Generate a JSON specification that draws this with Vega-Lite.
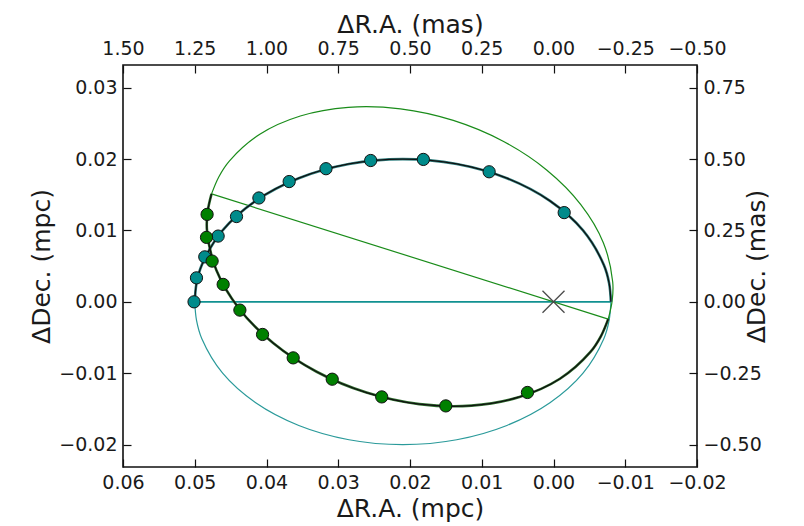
{
  "$schema": "https://vega.github.io/schema/vega-lite/v6.json",
  "width": 574,
  "height": 402,
  "autosize": {"type": "none"},
  "padding": {"left": 123, "top": 65, "right": 107, "bottom": 59},
  "background": "white",
  "config": {
    "view": {"stroke": "#111", "strokeWidth": 1.6},
    "font": "DejaVu Sans",
    "axis": {
      "domain": false,
      "grid": false,
      "tickSize": -8,
      "tickColor": "#111",
      "tickWidth": 1.2,
      "labelFont": "DejaVu Sans",
      "labelFontSize": 19,
      "labelColor": "#1a1a1a",
      "labelPadding": 14,
      "labelOverlap": false,
      "labelFlush": false,
      "labelBound": false,
      "titleFont": "DejaVu Sans",
      "titleFontSize": 25,
      "titleFontWeight": "normal",
      "titleColor": "#1a1a1a"
    }
  },
  "datasets": {
    "orbit": [
      {"curve": "tealUpper", "i": 0, "x": 0.05, "y": 0},
      {"curve": "tealUpper", "i": 1, "x": 0.049752, "y": 0.002611},
      {"curve": "tealUpper", "i": 2, "x": 0.049012, "y": 0.005176},
      {"curve": "tealUpper", "i": 3, "x": 0.046115, "y": 0.01},
      {"curve": "tealUpper", "i": 4, "x": 0.041506, "y": 0.014142},
      {"curve": "tealUpper", "i": 5, "x": 0.0355, "y": 0.017321},
      {"curve": "tealUpper", "i": 6, "x": 0.028506, "y": 0.019319},
      {"curve": "tealUpper", "i": 7, "x": 0.021, "y": 0.02},
      {"curve": "tealUpper", "i": 8, "x": 0.013494, "y": 0.019319},
      {"curve": "tealUpper", "i": 9, "x": 0.0065, "y": 0.017321},
      {"curve": "tealUpper", "i": 10, "x": 0.000494, "y": 0.014142},
      {"curve": "tealUpper", "i": 11, "x": -0.004115, "y": 0.01},
      {"curve": "tealUpper", "i": 12, "x": -0.007012, "y": 0.005176},
      {"curve": "tealUpper", "i": 13, "x": -0.007752, "y": 0.002611},
      {"curve": "tealUpper", "i": 14, "x": -0.008, "y": 0},

      {"curve": "tealLower", "i": 0, "x": 0.05, "y": 0},
      {"curve": "tealLower", "i": 1, "x": 0.049752, "y": -0.002611},
      {"curve": "tealLower", "i": 2, "x": 0.049012, "y": -0.005176},
      {"curve": "tealLower", "i": 3, "x": 0.046115, "y": -0.01},
      {"curve": "tealLower", "i": 4, "x": 0.041506, "y": -0.014142},
      {"curve": "tealLower", "i": 5, "x": 0.0355, "y": -0.017321},
      {"curve": "tealLower", "i": 6, "x": 0.028506, "y": -0.019319},
      {"curve": "tealLower", "i": 7, "x": 0.021, "y": -0.02},
      {"curve": "tealLower", "i": 8, "x": 0.013494, "y": -0.019319},
      {"curve": "tealLower", "i": 9, "x": 0.0065, "y": -0.017321},
      {"curve": "tealLower", "i": 10, "x": 0.000494, "y": -0.014142},
      {"curve": "tealLower", "i": 11, "x": -0.004115, "y": -0.01},
      {"curve": "tealLower", "i": 12, "x": -0.007012, "y": -0.005176},
      {"curve": "tealLower", "i": 13, "x": -0.007752, "y": -0.002611},
      {"curve": "tealLower", "i": 14, "x": -0.008, "y": 0},

      {"curve": "greenUpper", "i": 0, "x": 0.04766, "y": 0.01512},
      {"curve": "greenUpper", "i": 1, "x": 0.046634, "y": 0.017534},
      {"curve": "greenUpper", "i": 2, "x": 0.045153, "y": 0.019755},
      {"curve": "greenUpper", "i": 3, "x": 0.040933, "y": 0.023477},
      {"curve": "greenUpper", "i": 4, "x": 0.035287, "y": 0.026031},
      {"curve": "greenUpper", "i": 5, "x": 0.028601, "y": 0.027245},
      {"curve": "greenUpper", "i": 6, "x": 0.02133, "y": 0.027035},
      {"curve": "greenUpper", "i": 7, "x": 0.013969, "y": 0.025414},
      {"curve": "greenUpper", "i": 8, "x": 0.00702, "y": 0.022496},
      {"curve": "greenUpper", "i": 9, "x": 0.000958, "y": 0.018476},
      {"curve": "greenUpper", "i": 10, "x": -0.003806, "y": 0.013629},
      {"curve": "greenUpper", "i": 11, "x": -0.006946, "y": 0.008288},
      {"curve": "greenUpper", "i": 12, "x": -0.008249, "y": 0.002814},
      {"curve": "greenUpper", "i": 13, "x": -0.008179, "y": 0.000145},
      {"curve": "greenUpper", "i": 14, "x": -0.007626, "y": -0.002419},

      {"curve": "greenLower", "i": 0, "x": 0.04766, "y": 0.01512},
      {"curve": "greenLower", "i": 1, "x": 0.048214, "y": 0.012556},
      {"curve": "greenLower", "i": 2, "x": 0.048283, "y": 0.009887},
      {"curve": "greenLower", "i": 3, "x": 0.046981, "y": 0.004413},
      {"curve": "greenLower", "i": 4, "x": 0.043841, "y": -0.000929},
      {"curve": "greenLower", "i": 5, "x": 0.039077, "y": -0.005775},
      {"curve": "greenLower", "i": 6, "x": 0.033014, "y": -0.009795},
      {"curve": "greenLower", "i": 7, "x": 0.026065, "y": -0.012714},
      {"curve": "greenLower", "i": 8, "x": 0.018704, "y": -0.014334},
      {"curve": "greenLower", "i": 9, "x": 0.011434, "y": -0.014544},
      {"curve": "greenLower", "i": 10, "x": 0.004748, "y": -0.013331},
      {"curve": "greenLower", "i": 11, "x": -0.000898, "y": -0.010776},
      {"curve": "greenLower", "i": 12, "x": -0.005119, "y": -0.007054},
      {"curve": "greenLower", "i": 13, "x": -0.006599, "y": -0.004833},
      {"curve": "greenLower", "i": 14, "x": -0.007626, "y": -0.002419}
    ],
    "apsides": [
      {"line": "teal", "i": 0, "x": 0.05, "y": 0},
      {"line": "teal", "i": 1, "x": -0.008, "y": 0},
      {"line": "green", "i": 0, "x": 0.04766, "y": 0.01512},
      {"line": "green", "i": 1, "x": -0.007626, "y": -0.002419}
    ],
    "obs": [
      {"set": "teal", "x": 0.0501, "y": 0.0},
      {"set": "teal", "x": 0.04976, "y": 0.00336},
      {"set": "teal", "x": 0.04860, "y": 0.00630},
      {"set": "teal", "x": 0.04674, "y": 0.00921},
      {"set": "teal", "x": 0.04418, "y": 0.01195},
      {"set": "teal", "x": 0.04106, "y": 0.01455},
      {"set": "teal", "x": 0.03684, "y": 0.01685},
      {"set": "teal", "x": 0.03171, "y": 0.01865},
      {"set": "teal", "x": 0.02548, "y": 0.01980},
      {"set": "teal", "x": 0.01814, "y": 0.01995},
      {"set": "teal", "x": 0.00897, "y": 0.01822},
      {"set": "teal", "x": -0.00149, "y": 0.01250},
      {"set": "green", "x": 0.04828, "y": 0.01225},
      {"set": "green", "x": 0.04836, "y": 0.00903},
      {"set": "green", "x": 0.04758, "y": 0.00571},
      {"set": "green", "x": 0.04604, "y": 0.00244},
      {"set": "green", "x": 0.04371, "y": -0.00116},
      {"set": "green", "x": 0.04055, "y": -0.00457},
      {"set": "green", "x": 0.03628, "y": -0.00785},
      {"set": "green", "x": 0.03084, "y": -0.01084},
      {"set": "green", "x": 0.02394, "y": -0.01332},
      {"set": "green", "x": 0.01501, "y": -0.01458},
      {"set": "green", "x": 0.00363, "y": -0.01270}
    ],
    "bh": [{"x": 0, "y": 0}]
  },
  "resolve": {
    "scale": {"x": "shared", "y": "shared"},
    "axis": {"x": "independent", "y": "independent"}
  },
  "layer": [
    {
      "data": {"name": "orbit"},
      "transform": [{"filter": "datum.curve === 'tealLower'"}],
      "mark": {"type": "line", "interpolate": "catmull-rom", "stroke": "#2a9a9a", "strokeWidth": 1.2},
      "encoding": {
        "x": {
          "field": "x", "type": "quantitative",
          "scale": {"domain": [-0.02, 0.06], "reverse": true, "nice": false, "zero": false},
          "axis": {
            "orient": "bottom", "title": "ΔR.A. (mpc)",
            "values": [0.06, 0.05, 0.04, 0.03, 0.02, 0.01, 0, -0.01, -0.02],
            "format": ".2f", "titlePadding": 4
          }
        },
        "y": {
          "field": "y", "type": "quantitative",
          "scale": {"domain": [-0.02314, 0.03318], "nice": false, "zero": false},
          "axis": {
            "orient": "left", "title": "ΔDec. (mpc)",
            "values": [-0.02, -0.01, 0, 0.01, 0.02, 0.03],
            "format": ".2f", "titlePadding": 4
          }
        },
        "order": {"field": "i", "type": "quantitative"}
      }
    },
    {
      "data": {"name": "orbit"},
      "transform": [{"filter": "datum.curve === 'greenUpper'"}],
      "mark": {"type": "line", "interpolate": "catmull-rom", "stroke": "#1a8c1a", "strokeWidth": 1.2},
      "encoding": {
        "x": {
          "field": "x", "type": "quantitative",
          "scale": {"domain": [-0.02, 0.06], "reverse": true, "nice": false, "zero": false},
          "axis": {
            "orient": "top", "title": "ΔR.A. (mas)",
            "values": [0.06, 0.05, 0.04, 0.03, 0.02, 0.01, 0, -0.01, -0.02],
            "labelExpr": "format(datum.value * 25, '.2f')",
            "labelPadding": 15, "titlePadding": 2
          }
        },
        "y": {
          "field": "y", "type": "quantitative",
          "scale": {"domain": [-0.02314, 0.03318], "nice": false, "zero": false},
          "axis": {
            "orient": "right", "title": "ΔDec. (mas)", "titleAngle": 270,
            "values": [-0.02, -0.01, 0, 0.01, 0.02, 0.03],
            "labelExpr": "format(datum.value * 25, '.2f')",
            "titlePadding": 8
          }
        },
        "order": {"field": "i", "type": "quantitative"}
      }
    },
    {
      "data": {"name": "apsides"},
      "transform": [{"filter": "datum.line === 'teal'"}],
      "mark": {"type": "line", "stroke": "#119191", "strokeWidth": 1.6},
      "encoding": {
        "x": {"field": "x", "type": "quantitative", "axis": null},
        "y": {"field": "y", "type": "quantitative", "axis": null},
        "order": {"field": "i", "type": "quantitative"}
      }
    },
    {
      "data": {"name": "apsides"},
      "transform": [{"filter": "datum.line === 'green'"}],
      "mark": {"type": "line", "stroke": "#1a8c1a", "strokeWidth": 1.2},
      "encoding": {
        "x": {"field": "x", "type": "quantitative", "axis": null},
        "y": {"field": "y", "type": "quantitative", "axis": null},
        "order": {"field": "i", "type": "quantitative"}
      }
    },
    {
      "data": {"name": "orbit"},
      "transform": [{"filter": "datum.curve === 'tealUpper'"}],
      "mark": {"type": "line", "interpolate": "catmull-rom", "stroke": "#2f7f7f", "strokeWidth": 2.6},
      "encoding": {
        "x": {"field": "x", "type": "quantitative", "axis": null},
        "y": {"field": "y", "type": "quantitative", "axis": null},
        "order": {"field": "i", "type": "quantitative"}
      }
    },
    {
      "data": {"name": "orbit"},
      "transform": [{"filter": "datum.curve === 'greenLower'"}],
      "mark": {"type": "line", "interpolate": "catmull-rom", "stroke": "#2f6f2f", "strokeWidth": 2.6},
      "encoding": {
        "x": {"field": "x", "type": "quantitative", "axis": null},
        "y": {"field": "y", "type": "quantitative", "axis": null},
        "order": {"field": "i", "type": "quantitative"}
      }
    },
    {
      "data": {"name": "orbit"},
      "transform": [{"filter": "datum.curve === 'tealUpper' || datum.curve === 'greenLower'"}],
      "mark": {"type": "line", "interpolate": "catmull-rom", "stroke": "#101010", "strokeWidth": 1.3},
      "encoding": {
        "x": {"field": "x", "type": "quantitative", "axis": null},
        "y": {"field": "y", "type": "quantitative", "axis": null},
        "detail": {"field": "curve"},
        "order": {"field": "i", "type": "quantitative"}
      }
    },
    {
      "data": {"name": "bh"},
      "mark": {"type": "point", "shape": "M-1,-1L1,1M-1,1L1,-1", "size": 484, "filled": false, "stroke": "#4a4a4a", "strokeWidth": 1.3, "opacity": 1},
      "encoding": {
        "x": {"field": "x", "type": "quantitative", "axis": null},
        "y": {"field": "y", "type": "quantitative", "axis": null}
      }
    },
    {
      "data": {"name": "obs"},
      "mark": {"type": "circle", "size": 150, "stroke": "#111", "strokeWidth": 1, "opacity": 1},
      "encoding": {
        "x": {"field": "x", "type": "quantitative", "axis": null},
        "y": {"field": "y", "type": "quantitative", "axis": null},
        "fill": {
          "field": "set", "type": "nominal", "legend": null,
          "scale": {"domain": ["teal", "green"], "range": ["#008b8b", "#008000"]}
        }
      }
    }
  ]
}
